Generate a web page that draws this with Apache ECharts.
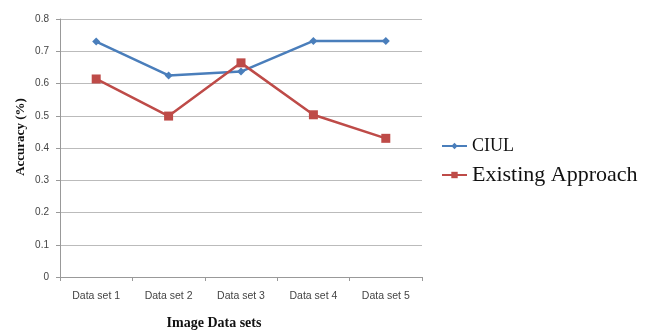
<!DOCTYPE html>
<html><head><meta charset="utf-8">
<script src="https://cdn.jsdelivr.net/npm/echarts@6/dist/echarts.min.js"></script>
<style>html,body{margin:0;padding:0;background:#fff}#c{width:653px;height:332px}</style>
</head><body><div id="c"></div>
<script>
const categories = ['Data set 1','Data set 2','Data set 3','Data set 4','Data set 5'];
const ciul = [0.730, 0.625, 0.637, 0.732, 0.732];
const existing = [0.614, 0.499, 0.664, 0.503, 0.430];
const yTicks = {min: 0, max: 0.8, interval: 0.1};

const chart = echarts.init(document.getElementById('c'));
chart.setOption({
  animation: false,
  backgroundColor: '#fff',
  grid: {left: 60, right: 231, top: 19, bottom: 55, containLabel: false},
  xAxis: {
    type: 'category', data: categories, boundaryGap: true,
    axisLine: {lineStyle: {color: '#999', width: 1}},
    axisTick: {show: true, length: 4, lineStyle: {color: '#999'}},
    axisLabel: {margin: 14, fontSize: 10.5, color: '#444', fontFamily: 'Liberation Sans'}
  },
  yAxis: {
    type: 'value', min: yTicks.min, max: yTicks.max, interval: yTicks.interval,
    axisLine: {show: true, lineStyle: {color: '#999', width: 1}},
    axisTick: {show: true, length: 4, lineStyle: {color: '#999'}},
    splitLine: {lineStyle: {color: '#bbb', width: 1}},
    axisLabel: {margin: 11, fontSize: 10, color: '#444', fontFamily: 'Liberation Sans',
      formatter: v => v === 0 ? '0' : v.toFixed(1)}
  },
  legend: [
    {data: ['CIUL'], orient: 'vertical', left: 441, top: 137, padding: 0, itemWidth: 25, itemHeight: 8,
     textStyle: {fontFamily: 'Liberation Serif', fontSize: 18, color: '#111'}},
    {data: ['Existing Approach'], orient: 'vertical', left: 441, top: 164, padding: 0, itemWidth: 25, itemHeight: 8,
     textStyle: {fontFamily: 'Liberation Serif', fontSize: 22, color: '#111'}}
  ],
  graphic: [
    {type: 'text', x: 214, y: 323, style: {text: 'Image Data sets', font: 'bold 14px "Liberation Serif"', fill: '#111', textAlign: 'center', textVerticalAlign: 'middle'}},
    {type: 'text', x: 21, y: 137, rotation: Math.PI / 2, style: {text: 'Accuracy (%)', font: 'bold 13px "Liberation Serif"', fill: '#111', textAlign: 'center', textVerticalAlign: 'middle'}}
  ],
  series: [
    {name: 'CIUL', type: 'line', data: ciul, symbol: 'diamond', symbolSize: 8,
     lineStyle: {color: '#4a7ebb', width: 2.5}, itemStyle: {color: '#4a7ebb'}},
    {name: 'Existing Approach', type: 'line', data: existing, symbol: 'rect', symbolSize: 9,
     lineStyle: {color: '#be4b48', width: 2.5}, itemStyle: {color: '#be4b48'}}
  ]
});
</script></body></html>
